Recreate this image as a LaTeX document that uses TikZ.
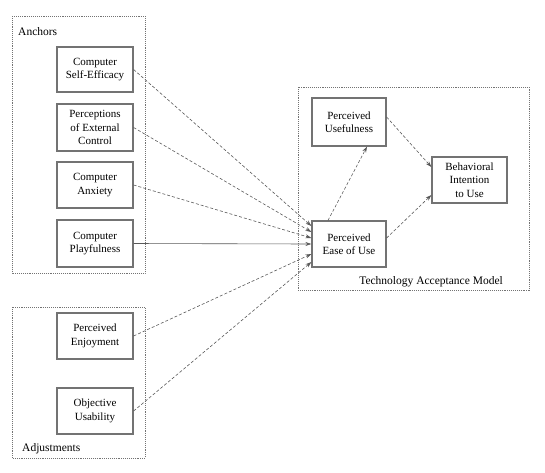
\documentclass[tikz,border=0pt]{standalone}
\usepackage{fontspec}
\setmainfont{Liberation Serif}
\usetikzlibrary{arrows.meta}
\begin{document}
\begin{tikzpicture}[x=1pt,y=-1pt,
  cbox/.style={draw=black!55, line width=1.2pt, fill=white, align=center,
    font=\fontsize{11}{13.5}\selectfont, inner sep=0pt},
  grp/.style={draw=black!55, densely dotted, line width=0.9pt},
  con/.style={draw=black!65, line width=0.6pt, densely dashed, -{Stealth[length=6pt,width=4pt]}},
  lbl/.style={font=\fontsize{11.5}{13}\selectfont, inner sep=0pt}]
\useasboundingbox (0,0) rectangle (545,472);
% group frames
\draw[grp] (12,16) rectangle (145,273);
\draw[grp] (12,307) rectangle (145,458);
\draw[grp] (298,87) rectangle (529,290);
\node[lbl, anchor=west] (lanch) at (18,32) {Anchors};
\node[lbl, anchor=west] (ladj) at (22,449) {Adjustments};
\node[lbl, anchor=east] (ltam) at (503,282) {Technology Acceptance Model};
% anchors
\node[cbox, minimum width=76, minimum height=45] (cse) at (95,69.5) {Computer\\Self-Efficacy};
\node[cbox, minimum width=76, minimum height=47] (pec) at (95,127.5) {Perceptions\\of External\\Control};
\node[cbox, minimum width=76, minimum height=46] (ca) at (95,185) {Computer\\Anxiety};
\node[cbox, minimum width=76, minimum height=47] (cp) at (95,243.5) {Computer\\Playfulness};
% adjustments
\node[cbox, minimum width=76, minimum height=46] (pe) at (95,336) {Perceived\\Enjoyment};
\node[cbox, minimum width=76, minimum height=46] (ou) at (95,411) {Objective\\Usability};
% TAM
\node[cbox, minimum width=74, minimum height=48] (pu) at (349,122) {Perceived\\Usefulness};
\node[cbox, minimum width=74, minimum height=46] (peou) at (349,244) {Perceived\\Ease of Use};
\node[cbox, minimum width=75, minimum height=46] (bi) at (469.5,180) {Behavioral\\Intention\\to Use};
% connectors
\draw[con] (cse.east) -- ([yshift=18pt]peou.west);
\draw[con] (pec.east) -- ([yshift=12pt]peou.west);
\draw[con] (ca.east) -- ([yshift=6pt]peou.west);
\draw[con, solid] (cp.east) -- (peou.west);
\draw[con] (pe.east) -- ([yshift=-10pt]peou.west);
\draw[con] (ou.east) -- ([yshift=-18pt]peou.west);
\draw[con] ([xshift=-21pt]peou.north) -- ([xshift=18pt]pu.south);
\draw[con] ([yshift=5pt]pu.east) -- ([yshift=13pt]bi.west);
\draw[con] ([yshift=6pt]peou.east) -- ([yshift=-15pt]bi.west);
\end{tikzpicture}
\end{document}
